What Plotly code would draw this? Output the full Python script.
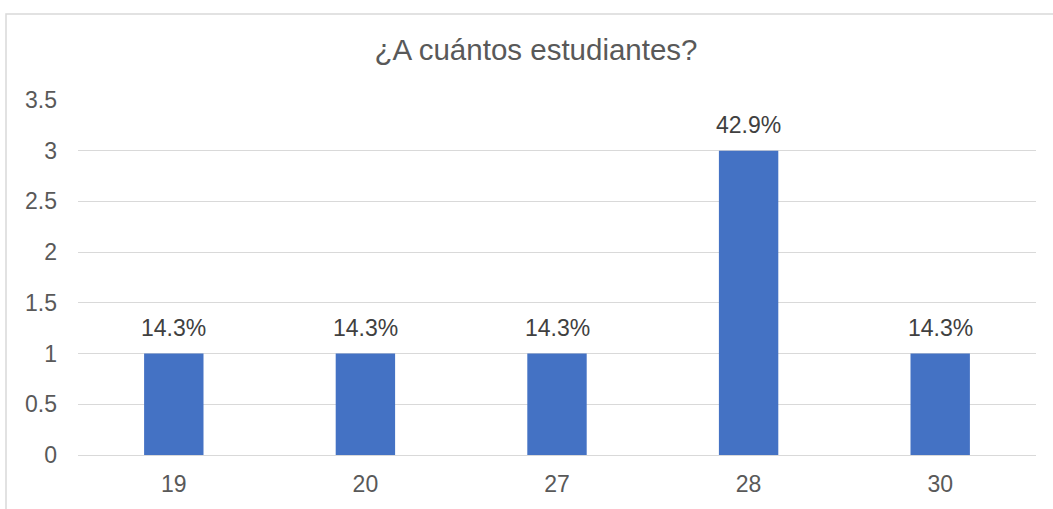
import plotly.graph_objects as go

categories = ["19", "20", "27", "28", "30"]
values = [1, 1, 1, 3, 1]
labels = ["14.3%", "14.3%", "14.3%", "42.9%", "14.3%"]
y_ticks = [0, 0.5, 1, 1.5, 2, 2.5, 3, 3.5]
y_tick_text = ["0", "0.5", "1", "1.5", "2", "2.5", "3", "3.5"]

font_family = "Liberation Sans, Arial, sans-serif"

fig = go.Figure(
    go.Bar(
        x=categories,
        y=values,
        marker=dict(color="#4472C4", line=dict(width=0)),
        hoverinfo="x+y",
    )
)

for i, (v, t) in enumerate(zip(values, labels)):
    fig.add_annotation(
        x=i, y=v, text=t, showarrow=False,
        xref="x", yref="y", yanchor="bottom", yshift=11,
        font=dict(size=23, color="#404040", family=font_family),
    )

L, R, T, B = 78, 17, 100, 50
W, H = 1053, 509
pw, ph = W - L - R, H - T - B

fig.update_layout(
    width=W,
    height=H,
    margin=dict(l=L, r=R, t=T, b=B),
    paper_bgcolor="white",
    plot_bgcolor="white",
    bargap=0.69,
    showlegend=False,
    title=dict(
        text="¿A cuántos estudiantes?",
        x=536 / W,
        xanchor="center",
        y=1 - 50 / H,
        yanchor="middle",
        font=dict(size=29.5, color="#595959", family=font_family),
    ),
    font=dict(family=font_family, color="#595959"),
    xaxis=dict(
        type="category",
        categoryorder="array",
        categoryarray=categories,
        range=[-0.5, len(categories) - 0.5],
        showgrid=False,
        showline=True,
        linecolor="#d9d9d9",
        linewidth=1,
        ticks="",
        ticklabelstandoff=8,
        tickfont=dict(size=23, color="#595959"),
        zeroline=False,
    ),
    yaxis=dict(
        range=[0, 3.5],
        tickvals=y_ticks,
        ticktext=y_tick_text,
        showgrid=True,
        gridcolor="#d9d9d9",
        gridwidth=1,
        zeroline=False,
        showline=False,
        ticks="",
        ticklabelstandoff=20,
        tickfont=dict(size=23, color="#595959"),
    ),
    shapes=[
        dict(
            type="rect",
            xref="paper",
            yref="paper",
            x0=(6 - L) / pw,
            x1=(W + 20 - L) / pw,
            y0=-(B + 20) / ph,
            y1=(H - 13 - B) / ph,
            line=dict(color="#d9d9d9", width=1.5),
            fillcolor="rgba(0,0,0,0)",
            layer="below",
        )
    ],
)

fig.write_html(
    "out.html",
    config={"displayModeBar": False},
    post_script="document.body.style.margin='0';document.body.style.overflow='hidden';",
)
